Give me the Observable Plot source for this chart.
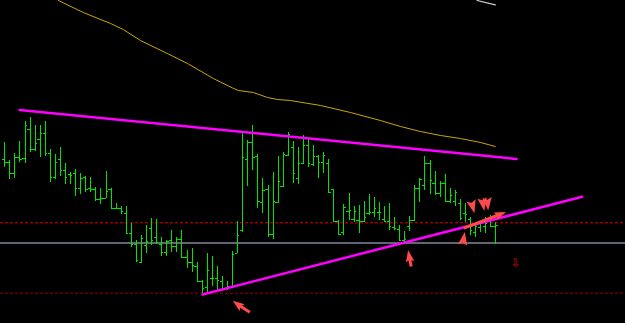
<!DOCTYPE html>
<html><head><meta charset="utf-8">
<script src="https://cdn.jsdelivr.net/npm/d3@7"></script>
<script src="https://cdn.jsdelivr.net/npm/@observablehq/plot@0.6"></script>
<style>html,body{margin:0;padding:0;background:#000;overflow:hidden}</style>
</head><body><div id="chart"></div>
<script>
// OHLC bars (price units), bar index 0..97
const high  = [257.7,240,247.3,259,279,283.3,275,275,279,250.7,245.7,253.3,237.3,227.7,231,227.3,224,223.3,213,212.3,229,211.7,197.3,194.3,194,177.3,160,165,175,182.3,181,163.3,160,170,163.3,170,150,151.7,138.3,120,146.7,144,134,124,119,149.3,179,266.7,260,275,245.7,222.3,215,228.3,244,248.3,267.7,259,253.3,265,260.7,255,245,247.7,240.7,211,180,195.7,207.3,194,195,199,206,203.3,197.7,194.3,197.3,183.3,175,169,184,215,221.7,244,240,229,219,226,211.7,210,200.7,197.3,183.3,176.7,178.3,183.3,185,178.3];
const low   = [233.3,221,221.7,238.3,236.7,248.3,249.3,243.3,244,217.7,221,224.3,216,215.7,204,206,208.3,208.3,199,196,201.7,190.7,190.7,186,165.7,153.3,137.7,136.7,146.7,155,155.7,144,144,147.7,148.3,141.7,131.7,128.3,118.3,106.7,108.3,114.3,110,109.3,110,113.3,146.7,167.7,214.3,230,191.7,186.7,163.3,160.7,196.7,212.7,244,217.3,215.7,235.7,233.3,234.3,221.7,226.7,206.7,178.3,165,165,180,178.3,167.3,178.3,185,183.3,180,178.3,170,170,159.3,155.7,169,179,198.3,210,206,205,202.7,197.7,196.7,194,180,178.3,165,163.3,168.3,166.7,173.3,156];
const open  = [240.7,238.3,226.7,243.3,242.3,270.7,250.7,261,267.3,246.7,223.3,241,230,226,226.7,211.7,223.3,212,210.7,201,202.3,211,192.3,191.7,186.7,167,155.7,138,155,172,163,156,147.7,160,154,160.7,143.3,138,134,119,113,121.7,122,119,112,114,146.7,170,241,258.3,244,198.3,211,165.7,197.7,214,245,253.3,221.7,237.3,255,235.7,244,238,237.3,210.7,179.3,168.3,189,180.7,180,179,187.3,188,188.3,181,179,173,171,160,174,180,211.7,215,236.7,217,207.3,217,199.3,199,197,187,181,168.3,173,174,179.3,174];
const close = [238.3,226.7,243.3,240.7,275,250.7,256.7,266.7,246.7,223.3,238,230,223.3,225.3,211.7,221.7,210.7,210.7,201.3,202,208.7,191.7,191.7,189,167,155.7,140,161.7,159,160,157.7,147.7,159,154.3,160.7,143.3,138,135,119,112,130,122,120,110.7,114,146,165,243.3,258,243.3,199.3,210,165.7,199,218.7,246,265.7,227.3,236.7,255,236.7,244,237.7,245,208.3,179.3,165.7,193.3,190,189,179.3,183.3,188,191.7,187.7,179.3,174,171.7,160,160.7,180,211.7,220.7,236.7,220,207.3,217.3,199.3,205,208.3,181.7,186,170,174,176.7,177.3,174,175];

// moving average (sampled at bar indices)
const maIndex = [10.6,15.5,20.9,23.4,26.8,32.1,36.1,41.2,45.2,46.2,49.1,51.9,53.9,56.4,62.4,68.3,74.2,78.2,82.1,86.1,90,94,96.9];
const maValue = [400,388,377,371,360,347,337,322,312,310,308,303,301,300,295,288,280,274,269,265,262,258,254];

// second (grey) average, only its tail is visible at the top right
const ma2Index = [93.3,96.9];
const ma2Value = [400,395.7];

// trend lines [index, price]
const upperTrend = [[2.9,290.5],[101.1,241.5]];
const lowerTrend = [[39.06,106],[114.06,203.7]];

// horizontal levels
const dashedHigh = 177.7;
const dashedLow = 107.3;
const greyLevel = 157.5;

// signal arrows: shaft tail, head centre, head rotation
const arrowTail = [[48.4,88.3],[80.28,134],[90.68,172.3]];
const arrowHead = [[46.1,95.8,-53],[79.9,143.8,-10],[97.8,186,68]];
const markers = [[90.62,161,10],[92.39,194.5,165],[94.47,197,170],[95.36,197.5,175]];
const label = [[100.89,137.5,"⇩"]];

const bars = high.map((h, i) => ({i, high: h, low: low[i], open: open[i], close: close[i]}));
const W = 625, H = 323;
const x0 = 4.3, step = 5.062;
const barColor = "#00e400";
const red = "#ff4a4a";

// slender arrow-head symbol (pointing up before rotation)
const head = {
  draw(ctx, size) {
    const r = Math.sqrt(size / Math.PI);
    ctx.moveTo(0, -r * 1.35);
    ctx.lineTo(r * 0.85, r * 1.0);
    ctx.lineTo(0, r * 0.6);
    ctx.lineTo(-r * 0.85, r * 1.0);
    ctx.closePath();
  }
};

const chart = Plot.plot({
  width: W, height: H, margin: 0,
  x: {domain: [-x0 / step, (W - x0) / step], axis: null},
  y: {domain: [400 - H, 400], axis: null},
  style: {background: "#000"},
  marks: [
    Plot.ruleY([greyLevel], {stroke: "#5f6674", strokeWidth: 2}),
    Plot.ruleY([dashedHigh], {stroke: "#e00000", strokeDasharray: "3,2"}),
    Plot.ruleY([dashedLow], {stroke: "#a00000", strokeDasharray: "3,2"}),
    Plot.ruleX(bars, {x: "i", y1: "low", y2: "high", stroke: barColor, shapeRendering: "crispEdges"}),
    Plot.ruleY(bars, {y: "open", x1: d => d.i - 0.45, x2: d => d.i, stroke: barColor, shapeRendering: "crispEdges"}),
    Plot.ruleY(bars, {y: "close", x1: d => d.i, x2: d => d.i + 0.45, stroke: barColor, shapeRendering: "crispEdges"}),
    Plot.line(maIndex.map((v, k) => [v, maValue[k]]), {stroke: "#c9a800", strokeWidth: 1}),
    Plot.line(ma2Index.map((v, k) => [v, ma2Value[k]]), {stroke: "#cfcfcf", strokeWidth: 1.2}),
    Plot.line(upperTrend, {stroke: "#ff00ff", strokeWidth: 2.5}),
    Plot.line(lowerTrend, {stroke: "#ff00ff", strokeWidth: 2.5}),
    Plot.link(arrowTail, {x1: d => d[0], y1: d => d[1], x2: (d, k) => arrowHead[k][0], y2: (d, k) => arrowHead[k][1], stroke: red, strokeWidth: 3}),
    Plot.dot(arrowHead, {x: d => d[0], y: d => d[1], rotate: d => d[2], symbol: head, r: 5, fill: red, stroke: "none"}),
    Plot.dot(markers, {x: d => d[0], y: d => d[1], rotate: d => d[2], symbol: head, r: 5.6, fill: red, stroke: "none"}),
    Plot.text(label, {x: d => d[0], y: d => d[1], text: d => d[2], fill: "#d00000", fontSize: 12, fontFamily: "DejaVu Sans"})
  ]
});
document.getElementById("chart").appendChild(chart);
</script>
</body></html>
